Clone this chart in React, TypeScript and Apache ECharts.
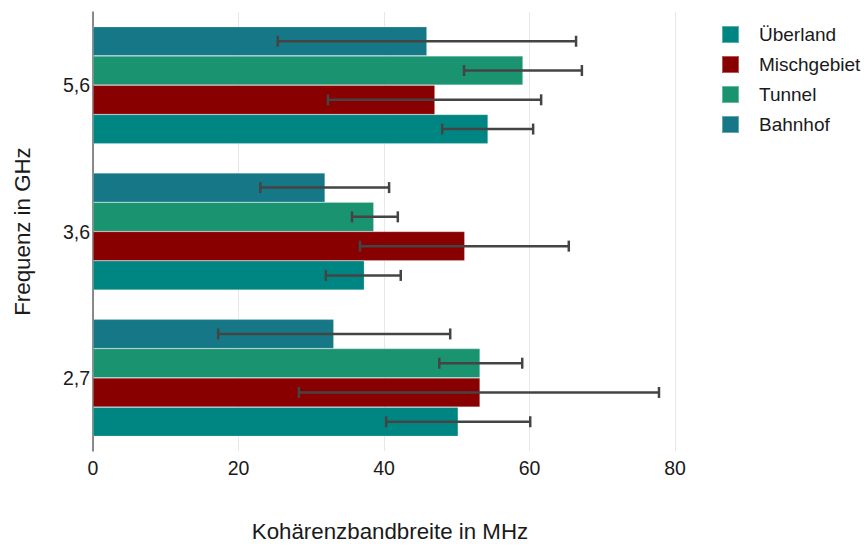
import React, { useEffect, useRef } from "react";
import * as echarts from "echarts";

const categories = ["2,7", "3,6", "5,6"];
const seriesNames = ["Überland", "Mischgebiet", "Tunnel", "Bahnhof"];
const seriesColors = ["#008682", "#880000", "#1a9370", "#167886"];
// values per series, per category (2,7 / 3,6 / 5,6)
const ueberland = [50.2, 37.3, 54.3];
const mischgebiet = [53.2, 51.1, 47.0];
const tunnel = [53.2, 38.6, 59.1];
const bahnhof = [33.1, 31.9, 45.9];
const ueberlandErr = [[40.3, 60.1], [32.0, 42.3], [48.0, 60.5]];
const mischgebietErr = [[28.3, 77.8], [36.7, 65.4], [32.3, 61.6]];
const tunnelErr = [[47.6, 59.0], [35.6, 41.9], [51.0, 67.2]];
const bahnhofErr = [[17.2, 49.1], [23.0, 40.7], [25.4, 66.4]];
const xTicks = [0, 20, 40, 60, 80];

const FONT = "Liberation Sans, Arial, sans-serif";
const TXT = "#1a1a1a";

export default function App() {
  const ref = useRef<HTMLDivElement>(null);
  useEffect(() => {
    if (!ref.current) return;
    const chart = echarts.init(ref.current, null, { renderer: "svg" });
    const values = [ueberland, mischgebiet, tunnel, bahnhof];
    const errs = [ueberlandErr, mischgebietErr, tunnelErr, bahnhofErr];
    // drawing order: top to bottom within group
    const drawOrder = [3, 2, 1, 0];
    const gapRatio = 0.2;
    const n = drawOrder.length;

    const barSeries = drawOrder.map((si) => ({
      type: "bar",
      name: seriesNames[si],
      data: values[si],
      itemStyle: { color: seriesColors[si], borderColor: "rgba(255,255,255,0.35)", borderWidth: 0.6 },
      barCategoryGap: "20%",
      barGap: "0%",
      emphasis: { disabled: true },
    }));

    const errSeries = drawOrder.map((si, k) => ({
      type: "custom",
      name: seriesNames[si] + " err",
      data: errs[si].map((e, ci) => [ci, e[0], e[1]]),
      encode: { y: 0, x: [1, 2] },
      z: 10,
      renderItem: (params: any, api: any) => {
        const ci = api.value(0);
        const lo = api.coord([api.value(1), ci]);
        const hi = api.coord([api.value(2), ci]);
        const band = api.size([0, 1])[1];
        const barW = (band * (1 - gapRatio)) / n;
        const y = lo[1] - (band * (1 - gapRatio)) / 2 + (k + 0.5) * barW;
        const cap = 5.5;
        const style = { stroke: "#444444", lineWidth: 2.5 };
        return {
          type: "group",
          children: [
            { type: "line", shape: { x1: lo[0], y1: y, x2: hi[0], y2: y }, style },
            { type: "line", shape: { x1: lo[0], y1: y - cap, x2: lo[0], y2: y + cap }, style },
            { type: "line", shape: { x1: hi[0], y1: y - cap, x2: hi[0], y2: y + cap }, style },
          ],
        };
      },
    }));

    chart.setOption({
      animation: false,
      textStyle: { fontFamily: FONT },
      grid: { left: 93, right: 190, top: 12, bottom: 88, containLabel: false },
      legend: {
        data: seriesNames,
        orient: "vertical",
        left: 716,
        top: 20,
        itemWidth: 17,
        itemHeight: 17,
        itemGap: 11,
        icon: "rect",
        textStyle: { fontSize: 19, lineHeight: 17, color: TXT, fontFamily: FONT, padding: [0, 0, 0, 15] },
      },
      xAxis: {
        type: "value",
        min: 0,
        max: 80,
        interval: 20,
        name: "Kohärenzbandbreite in MHz",
        nameLocation: "middle",
        nameGap: 69,
        nameTextStyle: { fontSize: 22.3, color: TXT, fontFamily: FONT, padding: [0, 0, 0, 12] },
        axisLine: { show: false },
        axisTick: { show: false },
        axisLabel: {
          fontSize: 19.5,
          color: TXT,
          margin: 7,
          fontFamily: FONT,
          formatter: (v: number) => (xTicks.includes(v) ? String(v) : ""),
        },
        splitLine: { show: true, lineStyle: { color: "#e8e8e8", width: 1 } },
      },
      yAxis: {
        type: "category",
        data: categories,
        name: "Frequenz in GHz",
        nameLocation: "middle",
        nameGap: 60,
        nameRotate: 90,
        nameTextStyle: { fontSize: 22.3, color: TXT, fontFamily: FONT },
        axisLine: { show: true, lineStyle: { color: "#666", width: 1.5 } },
        axisTick: { show: false },
        axisLabel: { fontSize: 19.5, color: TXT, margin: 3, fontFamily: FONT },
        splitLine: { show: false },
      },
      series: [...barSeries, ...errSeries],
    });
    return () => chart.dispose();
  }, []);
  return (
    <div
      ref={ref}
      style={{ position: "absolute", left: 0, top: 0, width: 865, height: 547 }}
    />
  );
}
